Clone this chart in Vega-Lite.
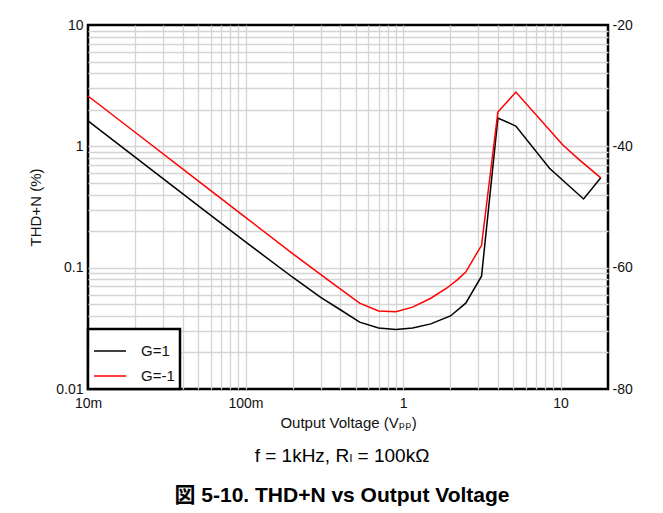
{
  "$schema": "https://vega.github.io/schema/vega-lite/v6.json",
  "width": 520,
  "height": 364,
  "autosize": {"type": "none"},
  "padding": {"left": 88, "top": 25, "right": 55, "bottom": 124},
  "background": "white",
  "config": {
    "font": "Liberation Sans",
    "view": {"stroke": "black", "strokeWidth": 2.5},
    "axis": {"labelFont": "Liberation Sans", "titleFont": "Liberation Sans", "labelColor": "#111", "titleColor": "#111", "titleFontWeight": "normal", "labelFlush": false}
  },
  "title": {
    "text": "f = 1kHz, Rₗ = 100kΩ",
    "subtitle": "図 5-10. THD+N vs Output Voltage",
    "orient": "bottom",
    "anchor": "middle",
    "frame": "group",
    "font": "Liberation Sans, DejaVu Sans, Noto Sans CJK JP",
    "fontSize": 19,
    "fontWeight": "normal",
    "color": "black",
    "subtitleFont": "Liberation Sans, Noto Sans CJK JP",
    "subtitleFontSize": 21,
    "subtitleFontWeight": "bold",
    "subtitleColor": "black",
    "subtitlePadding": 19,
    "offset": 17,
    "dx": -6
  },
  "data": {
    "values": [
      {"series": "G=1", "v": 0.01, "thd": 1.62},
      {"series": "G=1", "v": 0.02, "thd": 0.81},
      {"series": "G=1", "v": 0.05, "thd": 0.325},
      {"series": "G=1", "v": 0.1, "thd": 0.163},
      {"series": "G=1", "v": 0.2, "thd": 0.083},
      {"series": "G=1", "v": 0.3, "thd": 0.057},
      {"series": "G=1", "v": 0.4, "thd": 0.045},
      {"series": "G=1", "v": 0.53, "thd": 0.0356},
      {"series": "G=1", "v": 0.7, "thd": 0.0318},
      {"series": "G=1", "v": 0.9, "thd": 0.031},
      {"series": "G=1", "v": 1.15, "thd": 0.0318},
      {"series": "G=1", "v": 1.5, "thd": 0.0344},
      {"series": "G=1", "v": 2.0, "thd": 0.040},
      {"series": "G=1", "v": 2.5, "thd": 0.051},
      {"series": "G=1", "v": 3.15, "thd": 0.085},
      {"series": "G=1", "v": 4.0, "thd": 1.71},
      {"series": "G=1", "v": 5.2, "thd": 1.47},
      {"series": "G=1", "v": 8.5, "thd": 0.66},
      {"series": "G=1", "v": 14, "thd": 0.368},
      {"series": "G=1", "v": 18, "thd": 0.55},
      {"series": "G=-1", "v": 0.01, "thd": 2.6},
      {"series": "G=-1", "v": 0.02, "thd": 1.3},
      {"series": "G=-1", "v": 0.05, "thd": 0.52},
      {"series": "G=-1", "v": 0.1, "thd": 0.26},
      {"series": "G=-1", "v": 0.2, "thd": 0.13},
      {"series": "G=-1", "v": 0.335, "thd": 0.079},
      {"series": "G=-1", "v": 0.53, "thd": 0.051},
      {"series": "G=-1", "v": 0.7, "thd": 0.044},
      {"series": "G=-1", "v": 0.9, "thd": 0.0433},
      {"series": "G=-1", "v": 1.15, "thd": 0.0473},
      {"series": "G=-1", "v": 1.5, "thd": 0.056},
      {"series": "G=-1", "v": 1.9, "thd": 0.068},
      {"series": "G=-1", "v": 2.2, "thd": 0.079},
      {"series": "G=-1", "v": 2.5, "thd": 0.092},
      {"series": "G=-1", "v": 3.15, "thd": 0.153},
      {"series": "G=-1", "v": 4.0, "thd": 1.92},
      {"series": "G=-1", "v": 5.2, "thd": 2.8},
      {"series": "G=-1", "v": 10.3, "thd": 1.03},
      {"series": "G=-1", "v": 13, "thd": 0.785},
      {"series": "G=-1", "v": 18, "thd": 0.55}
    ]
  },
  "encoding": {
    "x": {
      "field": "v",
      "type": "quantitative",
      "scale": {"type": "log", "domain": [0.01, 20], "nice": false},
      "axis": {
        "title": "Output Voltage (Vₚₚ)",
        "titleFont": "Liberation Sans, DejaVu Sans",
        "titleFontSize": 15,
        "titlePadding": 5,
        "values": [0.01, 0.02, 0.03, 0.04, 0.05, 0.06, 0.07, 0.08, 0.09, 0.1, 0.2, 0.3, 0.4, 0.5, 0.6, 0.7, 0.8, 0.9, 1, 2, 3, 4, 5, 6, 7, 8, 9, 10, 20],
        "labelExpr": "indexof([0.01, 0.1, 1, 10], datum.value) >= 0 ? format(datum.value, '~s') : ''",
        "labelOverlap": false,
        "labelFontSize": 14,
        "labelPadding": 7,
        "ticks": false,
        "domain": false,
        "grid": true,
        "gridColor": "#d4d4d4",
        "gridWidth": 1.3,
        "gridOpacity": {"condition": {"test": "datum.value == 0.01 || datum.value == 20", "value": 0}, "value": 1}
      }
    }
  },
  "layer": [
    {
      "mark": {"type": "line", "strokeWidth": 1.5},
      "encoding": {
        "y": {
          "field": "thd",
          "type": "quantitative",
          "scale": {"type": "log", "domain": [0.01, 10], "nice": false},
          "axis": {
            "title": "THD+N (%)",
            "titleFontSize": 15,
            "titlePadding": 12,
            "values": [0.01, 0.02, 0.03, 0.04, 0.05, 0.06, 0.07, 0.08, 0.09, 0.1, 0.2, 0.3, 0.4, 0.5, 0.6, 0.7, 0.8, 0.9, 1, 2, 3, 4, 5, 6, 7, 8, 9, 10],
            "labelExpr": "indexof([0.01, 0.1, 1, 10], datum.value) >= 0 ? format(datum.value, '~g') : ''",
            "labelOverlap": false,
            "labelFontSize": 14,
            "labelPadding": 5,
            "ticks": false,
            "domain": false,
            "grid": true,
            "gridColor": "#d4d4d4",
            "gridWidth": 1.3,
            "gridOpacity": {"condition": {"test": "datum.value == 0.01 || datum.value == 10", "value": 0}, "value": 1}
          }
        },
        "color": {
          "field": "series",
          "type": "nominal",
          "sort": ["G=1", "G=-1"],
          "scale": {"domain": ["G=1", "G=-1"], "range": ["#000000", "#ff0000"]},
          "legend": {
            "title": null,
            "orient": "bottom-left",
            "offset": 0,
            "strokeColor": "black",
            "fillColor": "white",
            "padding": 5,
            "symbolType": "stroke",
            "symbolSize": 1024,
            "symbolStrokeWidth": 1.5,
            "labelFontSize": 15,
            "labelFont": "Liberation Sans",
            "labelColor": "#111",
            "labelOffset": 14,
            "rowPadding": 0,
            "encode": {"legend": {"update": {"strokeWidth": {"value": 2.5}}}}
          }
        }
      }
    },
    {
      "mark": {"type": "point", "opacity": 0},
      "encoding": {
        "y": {
          "field": "thd",
          "type": "quantitative",
          "scale": {"type": "log", "domain": [0.01, 10], "nice": false},
          "axis": {
            "orient": "right",
            "title": null,
            "values": [0.01, 0.1, 1, 10],
            "labelExpr": "round(20 * log(datum.value / 100) / LN10) + ''",
            "labelFontSize": 14,
            "labelPadding": 4,
            "ticks": false,
            "domain": false,
            "grid": false
          }
        }
      }
    }
  ],
  "resolve": {"axis": {"y": "independent"}}
}
